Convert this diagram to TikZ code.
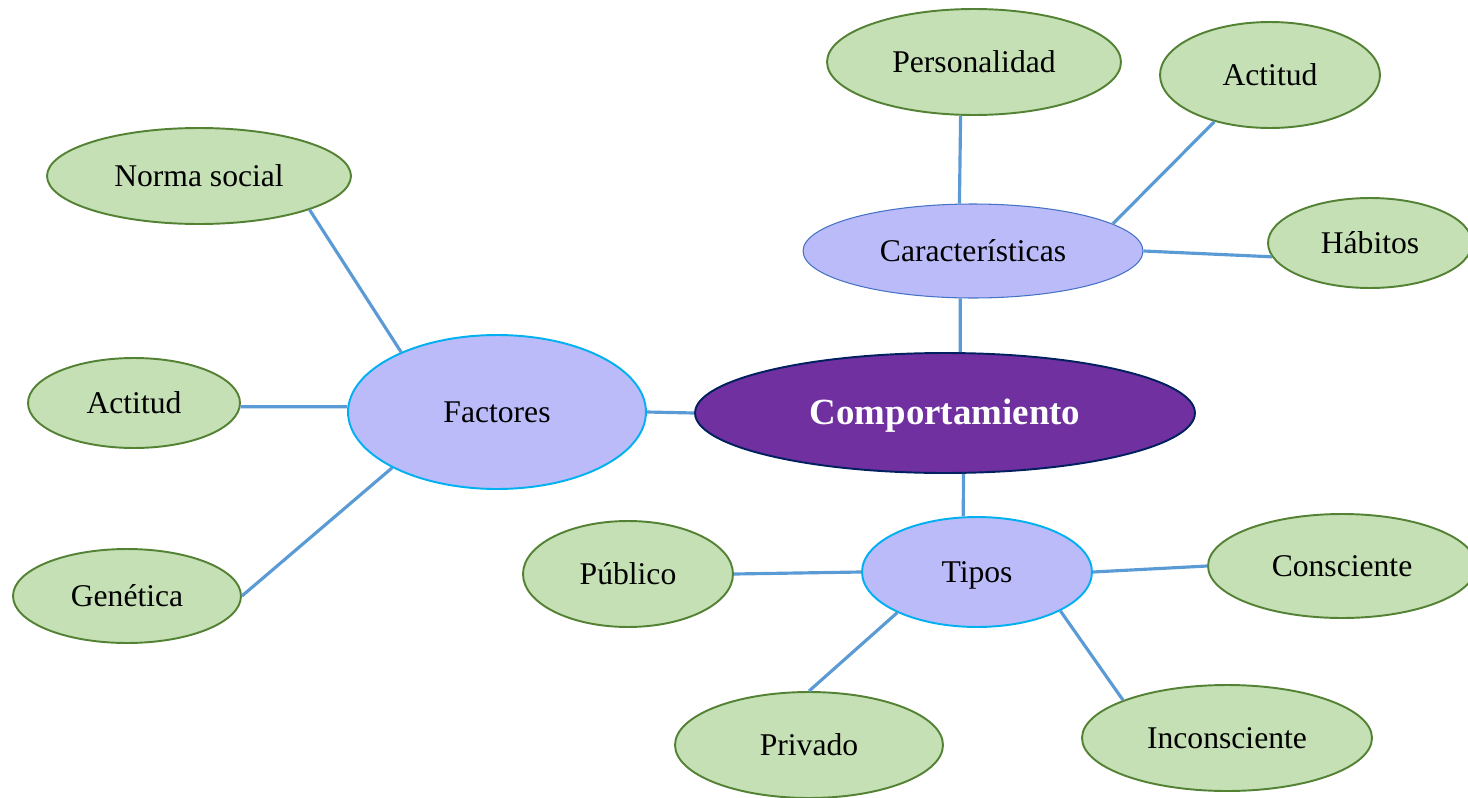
\documentclass[tikz,border=0pt]{standalone}
\usepackage{fontspec}
\setmainfont{Liberation Serif}
\usepackage{tikz}
\usetikzlibrary{shapes.geometric}
\definecolor{hojafill}{HTML}{C5E0B4}
\definecolor{hojaline}{HTML}{548235}
\definecolor{ramafill}{HTML}{BBBBF9}
\definecolor{ramaline}{HTML}{00B0F0}
\definecolor{caracline}{HTML}{4472C4}
\definecolor{centrofill}{HTML}{7030A0}
\definecolor{centroline}{HTML}{002060}
\definecolor{enlace}{HTML}{5B9BD5}

\begin{document}
\begin{tikzpicture}[x=0.02cm, y=-0.02cm,
        hoja/.style={ellipse, draw=hojaline, fill=hojafill, line width=1.1pt,
                     inner sep=0pt, text height=16pt, text depth=4pt,
                     font=\fontsize{18}{22}\selectfont},
        rama/.style={ellipse, draw=ramaline, fill=ramafill, line width=1.1pt,
                     inner sep=0pt, text height=16pt, text depth=4pt,
                     font=\fontsize{18}{22}\selectfont},
        centro/.style={ellipse, draw=centroline, fill=centrofill, line width=1.1pt,
                     inner sep=0pt, text height=18pt, text depth=5pt, text=white,
                     font=\fontsize{21}{25}\selectfont\bfseries},
        con/.style={draw=enlace, line width=1.8pt}
                            ]
        \useasboundingbox (0,0) rectangle (1468,798);
        % center and branches
        \node[centro, minimum width=10cm, minimum height=2.4cm] (comp) at (945,413) {Comportamiento};
        \node[rama, draw=caracline, line width=0.6pt, minimum width=6.8cm, minimum height=1.88cm] (carac) at (973,251) {Características};
        \node[rama, minimum width=5.96cm, minimum height=3.08cm] (fact) at (497,412) {Factores};
        \node[rama, minimum width=4.6cm, minimum height=2.2cm] (tipos) at (977,572) {Tipos};
        % leaves
        \node[hoja, minimum width=5.88cm, minimum height=2.12cm] (pers) at (974,62) {Personalidad};
        \node[hoja, minimum width=4.4cm, minimum height=2.12cm] (actA) at (1270,75) {Actitud};
        \node[hoja, minimum width=4.08cm, minimum height=1.8cm] (hab) at (1370,243) {Hábitos};
        \node[hoja, minimum width=6.08cm, minimum height=1.92cm] (norma) at (199,176) {Norma social};
        \node[hoja, minimum width=4.24cm, minimum height=1.8cm] (actB) at (134,403) {Actitud};
        \node[hoja, minimum width=4.56cm, minimum height=1.88cm] (gen) at (127,596) {Genética};
        \node[hoja, minimum width=4.2cm, minimum height=2.12cm] (pub) at (628,574) {Público};
        \node[hoja, minimum width=5.36cm, minimum height=2.12cm] (priv) at (809,745) {Privado};
        \node[hoja, minimum width=5.8cm, minimum height=2.12cm] (incon) at (1227,738) {Inconsciente};
        \node[hoja, minimum width=5.36cm, minimum height=2.08cm] (consc) at (1342,566) {Consciente};
        %
        \draw[con] (pers.-104) -- (carac.106);
        \draw[con] (actA.-140) -- (carac.11);
        \draw[con] (carac.east) -- (hab.-172);
        \draw[con] (carac.-105) -- (comp.76);
        \draw[con] (norma.-17) -- (fact.148);
        \draw[con] (actB.-2) -- (fact.178);
        \draw[con] (gen.east) -- (fact.-152);
        \draw[con] (fact.east) -- (comp.west);
        \draw[con] (comp.-73) -- (tipos.104);
        \draw[con] (pub.east) -- (tipos.west);
        \draw[con] (priv.north) -- (tipos.-153);
        \draw[con] (incon.160) -- (tipos.-25);
        \draw[con] (tipos.east) -- (consc.west);
    \end{tikzpicture}
\end{document}
